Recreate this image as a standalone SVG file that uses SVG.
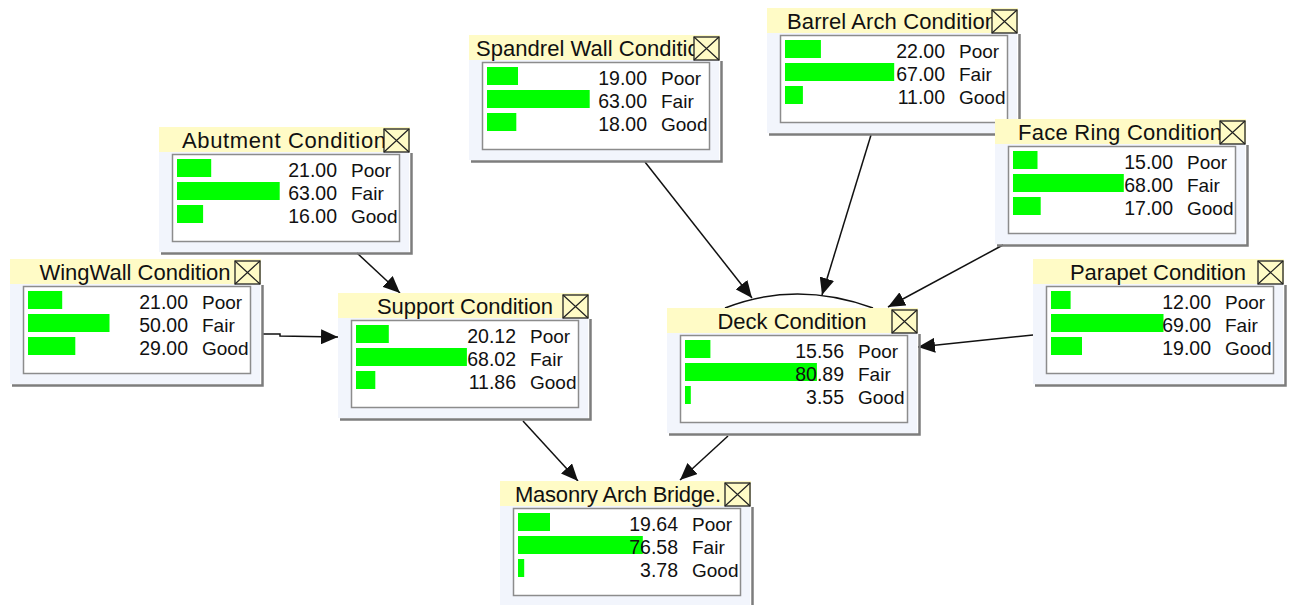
<svg xmlns="http://www.w3.org/2000/svg" width="1295" height="605" viewBox="0 0 1295 605">
<style>
.panel{fill:#F2F5FC;stroke:none}
.shadow{fill:none;stroke:#7d7d7d;stroke-width:2.5}
.title{fill:#FFFBC6;stroke:none}
.ttl{font-family:"Liberation Sans",Arial,sans-serif;font-size:22px;fill:#111;text-anchor:middle}
.xbox{fill:#FFFBC6;stroke:#222;stroke-width:1.3}
.xline{stroke:#222;stroke-width:1.2;fill:none}
.inner{fill:#fff;stroke:#8c8c8c;stroke-width:1.5}
.bar{fill:#00FF00}
.val{font-family:"Liberation Sans",Arial,sans-serif;font-size:19.5px;fill:#111;text-anchor:end}
.lab{font-family:"Liberation Sans",Arial,sans-serif;font-size:19px;fill:#111}
.edge{stroke:#111;stroke-width:1.5;fill:none}
</style>
<defs>
<marker id="arr" markerUnits="userSpaceOnUse" markerWidth="18" markerHeight="15" refX="17" refY="7.5" orient="auto">
<path d="M0,0 L17,7.5 L0,15 z" fill="#111"/>
</marker>
</defs>
<rect x="0" y="0" width="1295" height="605" fill="#fff"/>
<g id="connectors">
<line class="edge" x1="357" y1="253" x2="400" y2="293" marker-end="url(#arr)"/>
<polyline class="edge" points="263,334 280,334 280,336 338,337" marker-end="url(#arr)"/>
<line class="edge" x1="523" y1="421" x2="578" y2="481" marker-end="url(#arr)"/>
<line class="edge" x1="728" y1="436" x2="680" y2="480" marker-end="url(#arr)"/>
<line class="edge" x1="645" y1="162" x2="752" y2="298" marker-end="url(#arr)"/>
<line class="edge" x1="871" y1="135" x2="822" y2="295" marker-end="url(#arr)"/>
<line class="edge" x1="1003" y1="245" x2="888" y2="307" marker-end="url(#arr)"/>
<line class="edge" x1="1033" y1="335" x2="918" y2="347" marker-end="url(#arr)"/>
<path class="edge" d="M725,308 Q796,280 873,308"/>
</g>
<g id="abutment" transform="translate(159,127)">
<rect class="panel" x="0" y="25" width="250" height="100"/>
<path class="shadow" d="M2,126.5 H252.5 V26"/>
<rect class="title" x="0" y="0" width="251" height="25"/>
<text class="ttl" x="125" y="21" textLength="204" lengthAdjust="spacing">Abutment Condition</text>
<rect class="xbox" x="225" y="2" width="25" height="23"/>
<path class="xline" d="M225,2 L250,25 M250,2 L225,25"/>
<rect class="inner" x="13.5" y="27.5" width="227" height="87"/>
<rect class="bar" x="18" y="32" width="34.2" height="18"/>
<rect class="bar" x="18" y="55" width="102.7" height="18"/>
<rect class="bar" x="18" y="78" width="26.1" height="18"/>
<text class="val" x="178" y="50">21.00</text><text class="lab" x="192" y="50">Poor</text>
<text class="val" x="178" y="73">63.00</text><text class="lab" x="192" y="73">Fair</text>
<text class="val" x="178" y="96">16.00</text><text class="lab" x="192" y="96">Good</text>
</g>
<g id="wingwall" transform="translate(10,259)">
<rect class="panel" x="0" y="25" width="250" height="100"/>
<path class="shadow" d="M2,126.5 H252.5 V26"/>
<rect class="title" x="0" y="0" width="251" height="25"/>
<text class="ttl" x="125" y="21">WingWall Condition</text>
<rect class="xbox" x="225" y="2" width="25" height="23"/>
<path class="xline" d="M225,2 L250,25 M250,2 L225,25"/>
<rect class="inner" x="13.5" y="27.5" width="227" height="87"/>
<rect class="bar" x="18" y="32" width="34.2" height="18"/>
<rect class="bar" x="18" y="55" width="81.5" height="18"/>
<rect class="bar" x="18" y="78" width="47.3" height="18"/>
<text class="val" x="178" y="50">21.00</text><text class="lab" x="192" y="50">Poor</text>
<text class="val" x="178" y="73">50.00</text><text class="lab" x="192" y="73">Fair</text>
<text class="val" x="178" y="96">29.00</text><text class="lab" x="192" y="96">Good</text>
</g>
<g id="support" transform="translate(338,293)">
<rect class="panel" x="0" y="25" width="250" height="100"/>
<path class="shadow" d="M2,126.5 H252.5 V26"/>
<rect class="title" x="0" y="0" width="251" height="25"/>
<text class="ttl" x="127" y="21">Support Condition</text>
<rect class="xbox" x="225" y="2" width="25" height="23"/>
<path class="xline" d="M225,2 L250,25 M250,2 L225,25"/>
<rect class="inner" x="13.5" y="27.5" width="227" height="87"/>
<rect class="bar" x="18" y="32" width="32.8" height="18"/>
<rect class="bar" x="18" y="55" width="110.9" height="18"/>
<rect class="bar" x="18" y="78" width="19.3" height="18"/>
<text class="val" x="178" y="50">20.12</text><text class="lab" x="192" y="50">Poor</text>
<text class="val" x="178" y="73">68.02</text><text class="lab" x="192" y="73">Fair</text>
<text class="val" x="178" y="96">11.86</text><text class="lab" x="192" y="96">Good</text>
</g>
<g id="spandrel" transform="translate(469,35)">
<rect class="panel" x="0" y="25" width="250" height="100"/>
<path class="shadow" d="M2,126.5 H252.5 V26"/>
<rect class="title" x="0" y="0" width="251" height="25"/>
<text class="ttl" x="125" y="21" textLength="236" lengthAdjust="spacing">Spandrel Wall Condition</text>
<rect class="xbox" x="225" y="2" width="25" height="23"/>
<path class="xline" d="M225,2 L250,25 M250,2 L225,25"/>
<rect class="inner" x="13.5" y="27.5" width="227" height="87"/>
<rect class="bar" x="18" y="32" width="31" height="18"/>
<rect class="bar" x="18" y="55" width="102.7" height="18"/>
<rect class="bar" x="18" y="78" width="29.3" height="18"/>
<text class="val" x="178" y="50">19.00</text><text class="lab" x="192" y="50">Poor</text>
<text class="val" x="178" y="73">63.00</text><text class="lab" x="192" y="73">Fair</text>
<text class="val" x="178" y="96">18.00</text><text class="lab" x="192" y="96">Good</text>
</g>
<g id="barrel" transform="translate(767,8)">
<rect class="panel" x="0" y="25" width="250" height="100"/>
<path class="shadow" d="M2,126.5 H252.5 V26"/>
<rect class="title" x="0" y="0" width="251" height="25"/>
<text class="ttl" x="125" y="21" textLength="210" lengthAdjust="spacing">Barrel Arch Condition</text>
<rect class="xbox" x="225" y="2" width="25" height="23"/>
<path class="xline" d="M225,2 L250,25 M250,2 L225,25"/>
<rect class="inner" x="13.5" y="27.5" width="227" height="87"/>
<rect class="bar" x="18" y="32" width="35.9" height="18"/>
<rect class="bar" x="18" y="55" width="109.2" height="18"/>
<rect class="bar" x="18" y="78" width="17.9" height="18"/>
<text class="val" x="178" y="50">22.00</text><text class="lab" x="192" y="50">Poor</text>
<text class="val" x="178" y="73">67.00</text><text class="lab" x="192" y="73">Fair</text>
<text class="val" x="178" y="96">11.00</text><text class="lab" x="192" y="96">Good</text>
</g>
<g id="facering" transform="translate(995,119)">
<rect class="panel" x="0" y="25" width="250" height="100"/>
<path class="shadow" d="M2,126.5 H252.5 V26"/>
<rect class="title" x="0" y="0" width="251" height="25"/>
<text class="ttl" x="125" y="21" textLength="204" lengthAdjust="spacing">Face Ring Condition</text>
<rect class="xbox" x="225" y="2" width="25" height="23"/>
<path class="xline" d="M225,2 L250,25 M250,2 L225,25"/>
<rect class="inner" x="13.5" y="27.5" width="227" height="87"/>
<rect class="bar" x="18" y="32" width="24.5" height="18"/>
<rect class="bar" x="18" y="55" width="110.8" height="18"/>
<rect class="bar" x="18" y="78" width="27.7" height="18"/>
<text class="val" x="178" y="50">15.00</text><text class="lab" x="192" y="50">Poor</text>
<text class="val" x="178" y="73">68.00</text><text class="lab" x="192" y="73">Fair</text>
<text class="val" x="178" y="96">17.00</text><text class="lab" x="192" y="96">Good</text>
</g>
<g id="parapet" transform="translate(1033,259)">
<rect class="panel" x="0" y="25" width="250" height="100"/>
<path class="shadow" d="M2,126.5 H252.5 V26"/>
<rect class="title" x="0" y="0" width="251" height="25"/>
<text class="ttl" x="125" y="21">Parapet Condition</text>
<rect class="xbox" x="225" y="2" width="25" height="23"/>
<path class="xline" d="M225,2 L250,25 M250,2 L225,25"/>
<rect class="inner" x="13.5" y="27.5" width="227" height="87"/>
<rect class="bar" x="18" y="32" width="19.6" height="18"/>
<rect class="bar" x="18" y="55" width="112.5" height="18"/>
<rect class="bar" x="18" y="78" width="31" height="18"/>
<text class="val" x="178" y="50">12.00</text><text class="lab" x="192" y="50">Poor</text>
<text class="val" x="178" y="73">69.00</text><text class="lab" x="192" y="73">Fair</text>
<text class="val" x="178" y="96">19.00</text><text class="lab" x="192" y="96">Good</text>
</g>
<g id="deck" transform="translate(667,308)">
<rect class="panel" x="0" y="25" width="250" height="100"/>
<path class="shadow" d="M2,126.5 H252.5 V26"/>
<rect class="title" x="0" y="0" width="251" height="25"/>
<text class="ttl" x="125" y="21">Deck Condition</text>
<rect class="xbox" x="225" y="2" width="25" height="23"/>
<path class="xline" d="M225,2 L250,25 M250,2 L225,25"/>
<rect class="inner" x="13.5" y="27.5" width="227" height="87"/>
<rect class="bar" x="18" y="32" width="25.4" height="18"/>
<rect class="bar" x="18" y="55" width="131.9" height="18"/>
<rect class="bar" x="18" y="78" width="5.8" height="18"/>
<text class="val" x="177" y="50">15.56</text><text class="lab" x="191" y="50">Poor</text>
<text class="val" x="177" y="73">80.89</text><text class="lab" x="191" y="73">Fair</text>
<text class="val" x="177" y="96">3.55</text><text class="lab" x="191" y="96">Good</text>
</g>
<g id="masonry" transform="translate(500,481)">
<rect class="panel" x="0" y="25" width="250" height="100"/>
<path class="shadow" d="M2,126.5 H252.5 V26"/>
<rect class="title" x="0" y="0" width="251" height="25"/>
<text class="ttl" x="118" y="21" textLength="206" lengthAdjust="spacing">Masonry Arch Bridge.</text>
<rect class="xbox" x="225" y="2" width="25" height="23"/>
<path class="xline" d="M225,2 L250,25 M250,2 L225,25"/>
<rect class="inner" x="13.5" y="27.5" width="227" height="87"/>
<rect class="bar" x="18" y="32" width="32" height="18"/>
<rect class="bar" x="18" y="55" width="124.8" height="18"/>
<rect class="bar" x="18" y="78" width="6.2" height="18"/>
<text class="val" x="178" y="50">19.64</text><text class="lab" x="192" y="50">Poor</text>
<text class="val" x="178" y="73">76.58</text><text class="lab" x="192" y="73">Fair</text>
<text class="val" x="178" y="96">3.78</text><text class="lab" x="192" y="96">Good</text>
</g>
</svg>
